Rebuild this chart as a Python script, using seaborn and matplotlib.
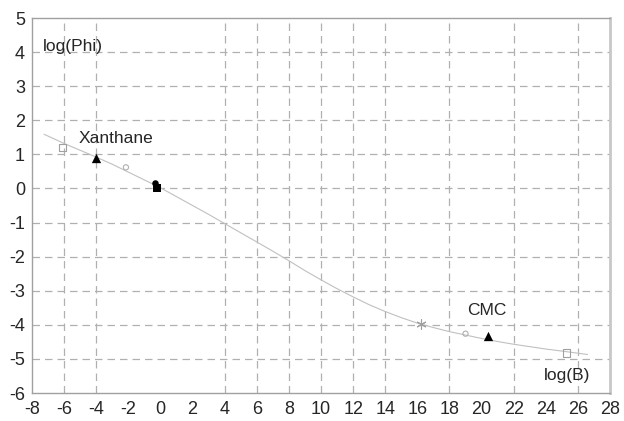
import numpy as np
import pandas as pd
import matplotlib
matplotlib.use("Agg")
import matplotlib.pyplot as plt
import seaborn as sns

# fitted master curve
curve_x = [-7.25, -6, -5, -4, -3, -2, -1, 0, 1, 2, 3, 4, 5, 6, 7, 8, 9, 10, 11, 12,
           13, 14, 15, 16, 17, 18, 19, 20, 21, 22, 23, 24, 25, 26.6]
curve_y = [1.59, 1.32, 1.12, 0.92, 0.71, 0.48, 0.25, 0.02, -0.24, -0.5, -0.76, -1.03,
           -1.3, -1.57, -1.84, -2.12, -2.41, -2.68, -2.94, -3.18, -3.41, -3.61, -3.79,
           -3.95, -4.08, -4.2, -4.3, -4.4, -4.49, -4.57, -4.64, -4.71, -4.77, -4.87]

# measured points per marker type
open_sq_x = [-6.1, 25.3]
open_sq_y = [1.2, -4.82]
tri_x = [-4.0, 20.4]
tri_y = [0.9, -4.32]
circ_x = [-2.15, 19.0]
circ_y = [0.62, -4.26]
dot_x = [-0.35]
dot_y = [0.15]
sq_x = [-0.2]
sq_y = [0.0]
star_x = [16.2]
star_y = [-3.97]

x_ticks = list(range(-8, 29, 2))
y_ticks = list(range(-6, 6))
x_grid = [-6, -4, 4, 6, 8, 10, 12, 14, 18, 22, 26]

sns.set_style("white")
plt.rcParams["font.family"] = ["Liberation Sans", "DejaVu Sans"]

fig = plt.figure(figsize=(6.24, 4.21), dpi=100)
ax = fig.add_axes([0.0513, 0.0665, 0.9263, 0.8907])

grid_kw = dict(color="#b0b0b0", lw=0.9, ls=(0, (6, 4)), zorder=0)
for gx in x_grid:
    ax.axvline(gx, **grid_kw)
for gy in range(-5, 5):
    ax.axhline(gy, **grid_kw)

curve = pd.DataFrame({"x": curve_x, "y": curve_y})
sns.lineplot(data=curve, x="x", y="y", color="#c0c0c0", lw=0.8, sort=False, ax=ax, zorder=2)

sns.scatterplot(x=open_sq_x, y=open_sq_y, marker="s", s=30, facecolor="none",
                edgecolor="#a0a0a0", linewidth=0.8, ax=ax, zorder=3)
sns.scatterplot(x=tri_x, y=tri_y, marker="^", s=45, color="black", linewidth=0, ax=ax, zorder=3)
sns.scatterplot(x=circ_x, y=circ_y, marker="o", s=14, facecolor="none",
                edgecolor="#b0b0b0", linewidth=0.8, ax=ax, zorder=3)
sns.scatterplot(x=dot_x, y=dot_y, marker="o", s=22, color="black", linewidth=0, ax=ax, zorder=3)
sns.scatterplot(x=sq_x, y=sq_y, marker="s", s=30, color="black", linewidth=0, ax=ax, zorder=3)
sns.scatterplot(x=star_x, y=star_y, marker=(6, 2, 0), s=45, color="#a0a0a0",
                edgecolor="#a0a0a0", linewidth=0.8, ax=ax, zorder=3)

ax.set_xlim(-8, 28)
ax.set_ylim(-6, 5)
ax.set_xticks(x_ticks)
ax.set_yticks(y_ticks)
ax.set_xticklabels([str(t) for t in x_ticks])
ax.set_yticklabels([str(t) for t in y_ticks])
ax.tick_params(axis="both", length=0, labelsize=13)
ax.tick_params(axis="x", pad=6)
ax.tick_params(axis="y", pad=5)
ax.set_xlabel("")
ax.set_ylabel("")

for side in ["left", "bottom", "top"]:
    ax.spines[side].set_color("#a0a0a0")
    ax.spines[side].set_linewidth(1.0)
ax.spines["right"].set_color("#c8c8c8")
ax.spines["right"].set_linewidth(2.0)

ax.text(-7.3, 4.15, "log(Phi)", fontsize=12.5, va="center", ha="left")
ax.text(26.75, -5.5, "log(B)", fontsize=12.5, va="center", ha="right")
ax.text(-2.75, 1.47, "Xanthane", fontsize=12.5, va="center", ha="center")
ax.text(20.3, -3.59, "CMC", fontsize=12.5, va="center", ha="center")

fig.savefig("out.png", dpi=100)
